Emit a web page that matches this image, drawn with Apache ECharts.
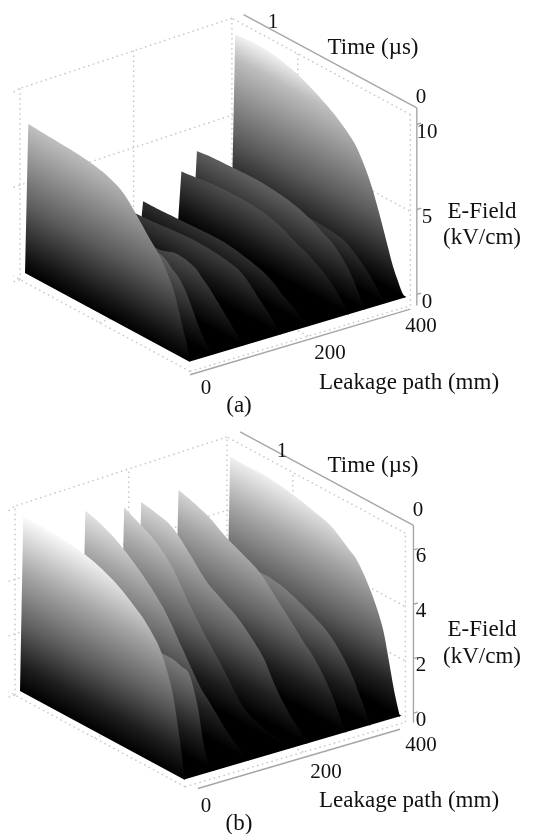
<!DOCTYPE html>
<html><head><meta charset="utf-8">
<style>html,body{margin:0;padding:0;background:#fff}#c{width:537px;height:834px}</style>
<script src="https://cdn.jsdelivr.net/npm/echarts@6/dist/echarts.min.js"></script>
</head><body><div id="c"></div>
<script>
// ---- data ----
const timeGrid = [.98,.9,.8,.7,.6,.5,.4,.3,.25,.2,.15,.1,.07,.04,.02,0];

// panel (a): crest E-field (kV/cm) of each ridge along timeGrid
const leakageA = [400,365,326,296,222,170,100,43,0];
const fieldA400 = [10.1,10.2,10.2,10.0,9.66,9.15,8.5,7.6,6.8,5.7,4.2,2.5,1.5,.75,.3,0];
const fieldA365 = [2.6,2.6,2.6,2.6,2.6,2.6,2.6,2.5,2.4,2.1,1.7,1.2,.85,.45,.2,0];
const fieldA326 = [4.0,4.1,4.15,4.2,4.2,4.1,3.9,3.5,3.2,2.95,2.5,1.9,1.4,.8,.4,0];
const fieldA296 = [3.1,3.2,3.35,3.4,3.4,3.3,3.0,2.5,2.3,2.0,1.7,1.25,.95,.55,.3,0];
const fieldA222 = [2.1,2.1,2.15,2.2,2.25,2.25,2.1,1.85,1.65,1.35,.95,.65,.45,.25,.12,0];
const fieldA170 = [2.5,2.5,2.55,2.65,2.75,2.8,2.75,2.6,2.45,2.1,1.6,1.1,.8,.45,.2,0];
const fieldA100 = [3.0,3.0,3.0,3.0,3.0,3.0,3.3,3.1,2.7,2.25,1.7,1.15,.8,.45,.2,0];
const fieldA43  = [4.5,4.5,4.5,4.5,4.5,4.5,4.4,4.2,3.8,3.4,2.6,1.5,.9,.45,.2,0];
const fieldA0   = [8.87,8.82,8.75,8.69,8.56,8.32,7.79,6.66,6.04,5.48,4.74,3.72,2.75,1.67,1.0,0];
const fieldsA = [fieldA400,fieldA365,fieldA326,fieldA296,fieldA222,fieldA170,fieldA100,fieldA43,fieldA0];

// panel (b)
const leakageB = [400,345,300,228,195,120,55,0];
const fieldB400 = [6.2,6.18,6.2,6.14,6.03,5.86,5.66,5.18,4.92,4.43,3.79,2.93,2.04,1.04,.48,0];
const fieldB345 = [3.4,3.4,3.4,3.42,3.45,3.35,3.1,2.8,2.6,2.3,1.9,1.4,1.0,.6,.3,0];
const fieldB300 = [5.6,5.45,5.2,4.8,4.5,4.15,3.5,2.85,2.5,2.2,1.8,1.3,.95,.5,.25,0];
const fieldB228 = [5.6,5.5,5.3,4.7,4.0,3.6,3.2,2.6,2.2,1.6,1.1,.7,.5,.3,.15,0];
const fieldB195 = [5.6,5.35,5.0,4.4,3.4,2.5,1.7,.8,.5,.35,.25,.2,.15,.1,.05,0];
const fieldB120 = [5.95,5.8,5.5,5.05,4.5,3.8,2.8,1.8,1.45,1.1,.75,.45,.3,.15,.08,0];
const fieldB55  = [3.3,3.3,3.3,3.3,3.3,3.3,3.3,3.3,3.3,3.2,3.05,2,.9,.2,.1,0];
const fieldB0   = [6.5,6.48,6.45,6.4,6.3,6.1,5.8,5.35,5.1,4.75,4.3,3.5,2.8,1.7,.9,0];
const fieldsB = [fieldB400,fieldB345,fieldB300,fieldB228,fieldB195,fieldB120,fieldB55,fieldB0];

// tick labels
const fieldTicksA = [0,5,10];
const fieldTicksB = [0,2,4,6];
const leakageTicks = [0,200,400];
const timeTicks = [0,1];

// ---- view of each panel ----
const viewA = {ox:190,oy:362,lx:.5375,ly:-.16,tx:-165,ty:-89,ez:17,
  floor:-.55,top:10.7,axisL:422,axisTop:10.97,axisFloor:-.75,axisL0:0,axisL1:410,wallL:220,sideT:.65,
  ramp:[[0,'#000'],[1,'#141414'],[4,'#5c5c5c'],[8.7,'#bdbdbd'],[10.3,'#f6f6f6']],
  fieldTickDy:8};
const viewB = {ox:185,oy:780,lx:.5375,ly:-.1575,tx:-165,ty:-89,ez:27.2,
  floor:-.25,top:6.7,axisL:425,axisTop:6.9,axisFloor:-.45,axisL0:24,axisL1:400,wallL:220,sideT:.65,
  ramp:[[0,'#000'],[1,'#1e1e1e'],[2.5,'#5e5e5e'],[4.5,'#a8a8a8'],[6.5,'#fbfbfb']],
  fieldTickDy:7};

// the time axis lengthens slightly toward the far side (perspective of the original view)
function proj(v,L,t,E){
  const k=1+.05*Math.max(0,Math.min(L,400))/400;
  return [v.ox+v.lx*L+v.tx*k*t, v.oy+v.ly*L+v.ty*k*t-v.ez*E];
}
// smooth drawing of a crest outline (Catmull-Rom), like a line series' smooth option
function smoothOutline(p){
  const out=[p[0]];
  for(let i=0;i<p.length-1;i++){
    const a=p[Math.max(i-1,0)],b=p[i],c=p[i+1],d=p[Math.min(i+2,p.length-1)];
    for(let s=1;s<=6;s++){
      const u=s/6,u2=u*u,u3=u2*u;
      out.push([0,1].map(j=>.5*(2*b[j]+(c[j]-a[j])*u+(2*a[j]-5*b[j]+4*c[j]-d[j])*u2+(3*b[j]-a[j]-3*c[j]+d[j])*u3)));
    }
  }
  return out;
}
function finGradient(v,api,L){
  const Emax=v.ramp[v.ramp.length-1][0];
  const p0=api.coord(proj(v,L,0,0)), p1=api.coord(proj(v,L,0,Emax));
  const len=Math.hypot(v.tx,v.ty), nx=-v.ty/len, ny=v.tx/len;
  const d=(p1[0]-p0[0])*nx+(p1[1]-p0[1])*ny;
  return new echarts.graphic.LinearGradient(p0[0],p0[1],p0[0]+nx*d,p0[1]+ny*d,
    v.ramp.map(s=>({offset:s[0]/Emax,color:s[1]})),true);
}
function finSeries(v,leak,fields){
  return {type:'custom',coordinateSystem:'cartesian2d',silent:true,clip:false,z:5,
    data:[[-1,-1]].concat(leak.map((L,i)=>[L,i])),
    renderItem(p,api){
      if(p.dataIndex===0){ // the ground sheet under the ridges (E = 0)
        const c=[[0,0],[403,0],[403,.98],[0,.98]].map(q=>api.coord(proj(v,q[0],q[1],.03)));
        return {type:'polygon',shape:{points:c},style:{fill:'#000'}};
      }
      const i=p.dataIndex-1,L=leak[i];
      const crest=timeGrid.map((t,k)=>api.coord(proj(v,L,t,fields[i][k])));
      const pts=[api.coord(proj(v,L,1,0))].concat(smoothOutline(crest));
      return {type:'polygon',shape:{points:pts},style:{fill:finGradient(v,api,L),stroke:null}};
    }};
}
function boxLines(v,fTicks){
  const f=v.floor,T=v.top,d=[];
  const dotted=(a,b)=>d.push([a,b,'dot']);
  dotted([410,1.03,T],[0,1.03,T]); dotted([410,0,T],[410,1.03,T]);
  dotted([0,1.03,f],[0,1.03,T]); dotted([v.wallL,1.03,f],[v.wallL,1.03,T]);
  dotted([410,v.sideT,f],[410,v.sideT,T]); dotted([410,0,f],[410,0,T]);
  dotted([410,1.03,f],[410,1.03,T]);
  dotted([0,0,f],[0,1.07,f]); dotted([0,0,f],[410,0,f]);
  dotted([v.wallL,0,f],[v.wallL,1.07,f]); dotted([0,.55,f],[410,.55,f]);
  fTicks.slice(1,-1).concat(v===viewA?[]:[]).forEach(e=>{dotted([-12,1.03,e],[410,1.03,e]);dotted([410,1.03,e],[410,0,e]);});
  dotted([-12,1.03,T-.1],[0,1.03,T]); dotted([-12,1.03,f],[0,1.03,f]);
  d.push([[v.axisL,0,v.axisTop],[v.axisL,1,v.axisTop],'axis']);
  d.push([[v.axisL,0,v.axisTop],[v.axisL,0,f-.1],'axis']);
  d.push([[v.axisL0,0,v.axisFloor],[v.axisL1,0,v.axisFloor],'axis']);
  fTicks.forEach(e=>d.push([[v.axisL,0,e],[v.axisL+8,0,e],'axis']));
  return {type:'custom',coordinateSystem:'cartesian2d',silent:true,clip:false,z:2,
    data:d.map((_,i)=>[i,i]),
    renderItem(p,api){
      const [a,b,k]=d[p.dataIndex];
      const A=api.coord(proj(v,a[0],a[1],a[2])),B=api.coord(proj(v,b[0],b[1],b[2]));
      return {type:'line',shape:{x1:A[0],y1:A[1],x2:B[0],y2:B[1]},
        style:k==='dot'?{stroke:'#c4c4c4',lineWidth:1.4,lineDash:[1.5,3.5]}:{stroke:'#a6a6a6',lineWidth:1.4}};
    }};
}
function tickSeries(items){
  return {type:'custom',coordinateSystem:'cartesian2d',silent:true,clip:false,z:8,
    data:items.map((_,i)=>[i,i]),
    renderItem(p,api){
      const it=items[p.dataIndex],c=api.coord(it.at);
      return {type:'text',x:c[0],y:c[1],style:{text:it.s,font:'21px "Liberation Serif"',fill:'#111',align:'center',verticalAlign:'middle'}};
    }};
}
function panelTicks(v,fTicks,lAt,tAt,fx){
  const it=[];
  fTicks.forEach(e=>{const q=proj(v,v.axisL,0,e);it.push({s:String(e),at:[fx,q[1]+v.fieldTickDy]});});
  leakageTicks.forEach((l,i)=>it.push({s:String(l),at:lAt[i]}));
  timeTicks.forEach((t,i)=>it.push({s:String(t),at:tAt[i]}));
  return tickSeries(it);
}
const names=[['Time (µs)',373,48],['E-Field',482,212],['(kV/cm)',482,238],['Leakage path (mm)',409,383],['(a)',239,406],
             ['Time (µs)',373,466],['E-Field',482,630],['(kV/cm)',482,657],['Leakage path (mm)',409,801],['(b)',239,824]];

const chart=echarts.init(document.getElementById('c'),null,{renderer:'canvas'});
chart.setOption({
  animation:false,backgroundColor:'#fff',
  grid:{left:0,right:0,top:0,bottom:0},
  xAxis:{type:'value',min:0,max:537,show:false},
  yAxis:{type:'value',min:0,max:834,inverse:true,show:false},
  graphic:names.map(n=>({type:'text',x:n[1],y:n[2],z:9,style:{text:n[0],font:'23px "Liberation Serif"',fill:'#111',align:'center',verticalAlign:'middle'}})),
  series:[
    boxLines(viewA,fieldTicksA),finSeries(viewA,leakageA,fieldsA),
    panelTicks(viewA,fieldTicksA,[[206,388],[330,353],[421,326]],[[421,97],[273,22]],427),
    boxLines(viewB,fieldTicksB),finSeries(viewB,leakageB,fieldsB),
    panelTicks(viewB,fieldTicksB,[[206,806],[326,772],[421,745]],[[418,510],[282,451]],421)
  ]
});
</script></body></html>
